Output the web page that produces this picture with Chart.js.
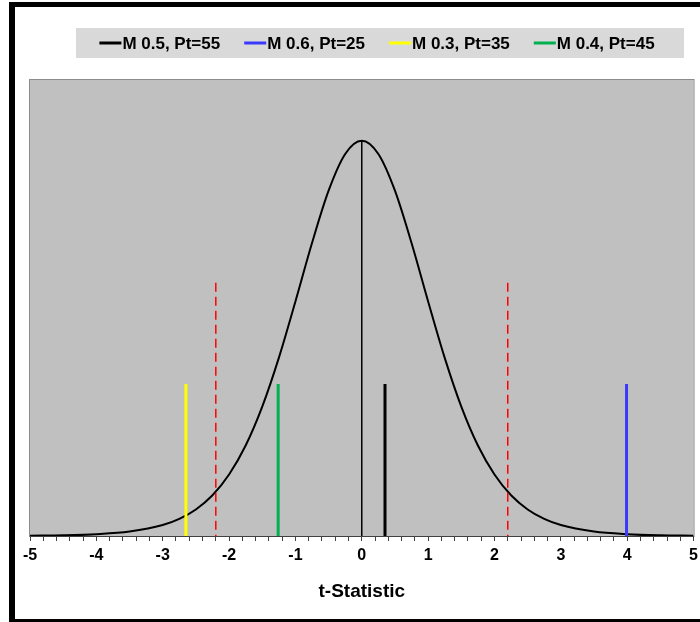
<!DOCTYPE html>
<html>
<head>
<meta charset="utf-8">
<title>t-Statistic</title>
<script src="https://cdn.jsdelivr.net/npm/chart.js@4"></script>
<style>
  html, body { margin: 0; padding: 0; background: #fff; }
  #wrap { position: relative; width: 700px; height: 622px; overflow: hidden; }
  #frame {
    position: absolute; left: 9px; top: 2px; width: 720px; height: 612px;
    border-left: 6px solid #000; border-top: 5px solid #000; border-bottom: 5px solid #000;
  }
  #chart { position: absolute; left: 0; top: 0; }
</style>
</head>
<body>
<div id="wrap">
  <div id="frame"></div>
  <canvas id="chart" width="703" height="622"></canvas>
</div>
<script>
// density curve, sampled along the t axis
const curveT = [-5, -4.5, -4, -3.5, -3, -2.75, -2.5, -2.25, -2, -1.75, -1.5, -1.25, -1, -0.75, -0.5, -0.25,
  0, 0.25, 0.5, 0.75, 1, 1.25, 1.5, 1.75, 2, 2.25, 2.5, 2.75, 3, 3.5, 4, 4.5, 5];
const curveY = [0.0003, 0.0007, 0.0018, 0.0044, 0.0108, 0.0169, 0.0262, 0.0402, 0.0607, 0.0893, 0.1277, 0.1758, 0.2314, 0.2891, 0.3408, 0.3770,
  0.3900, 0.3770, 0.3408, 0.2891, 0.2314, 0.1758, 0.1277, 0.0893, 0.0607, 0.0402, 0.0262, 0.0169, 0.0108, 0.0044, 0.0018, 0.0007, 0.0003];

// observed t values for each model
const markerLabels = ['M 0.5, Pt=55', 'M 0.6, Pt=25', 'M 0.3, Pt=35', 'M 0.4, Pt=45'];
const markerT = [0.35, 3.99, -2.65, -1.26];
const markerHeight = 0.15;
const markerColors = ['#000000', '#3a3aff', '#ffff00', '#00b050'];

// critical values (two-sided 5%)
const criticalT = [-2.2, 2.2];
const criticalHeight = 0.25;
const peakY = 0.39;

const xTicksMin = -5;
const xTicksMax = 5;

function vline(x, top) {
  return [{ x: x, y: 0 }, { x: x, y: top }];
}

const datasets = [];

markerT.forEach((t, i) => {
  datasets.push({
    label: markerLabels[i],
    showInLegend: true,
    data: vline(t, markerHeight),
    borderColor: markerColors[i],
    borderWidth: 3,
    pointRadius: 0,
    order: 0
  });
});

// dashes run from the top down
criticalT.forEach(t => {
  datasets.push({
    data: vline(t, criticalHeight).reverse(),
    borderColor: '#ff0000',
    borderWidth: 1.5,
    borderDash: [9, 5],
    pointRadius: 0,
    order: 1
  });
});

datasets.push({
  data: vline(0, peakY),
  borderColor: '#000000',
  borderWidth: 1.5,
  pointRadius: 0,
  order: 1
});

datasets.push({
  data: curveT.map((t, i) => ({ x: t, y: curveY[i] })),
  borderColor: '#000000',
  borderWidth: 2,
  pointRadius: 0,
  cubicInterpolationMode: 'monotone',
  order: 2
});

// gray plot area with a thin border
const plotBackground = {
  id: 'plotBackground',
  beforeDraw(chart) {
    const { ctx, chartArea: a } = chart;
    ctx.save();
    ctx.fillStyle = '#c0c0c0';
    ctx.fillRect(a.left, a.top, a.right - a.left, a.bottom - a.top);
    ctx.strokeStyle = '#8c8c8c';
    ctx.lineWidth = 1;
    ctx.strokeRect(a.left - 0.5, a.top - 0.5, a.right - a.left + 1, a.bottom - a.top + 1);
    ctx.restore();
  }
};

// legend drawn in a gray band above the plot
const boxLegend = {
  id: 'boxLegend',
  afterDraw(chart, args, opts) {
    const { ctx } = chart;
    const items = chart.data.datasets.filter(d => d.showInLegend);
    ctx.save();
    ctx.fillStyle = opts.background;
    ctx.fillRect(opts.left, opts.top, opts.width, opts.height);
    ctx.font = opts.font;
    ctx.textBaseline = 'middle';
    const widths = items.map(d => opts.lineLength + opts.gap + ctx.measureText(d.label).width);
    const total = widths.reduce((s, w) => s + w, 0) + opts.spacing * (items.length - 1);
    let x = opts.left + (opts.width - total) / 2 + opts.shift;
    const y = opts.top + opts.height / 2;
    items.forEach((d, i) => {
      ctx.strokeStyle = d.borderColor;
      ctx.lineWidth = 3;
      ctx.beginPath();
      ctx.moveTo(x, y);
      ctx.lineTo(x + opts.lineLength, y);
      ctx.stroke();
      ctx.fillStyle = '#000';
      ctx.fillText(d.label, x + opts.lineLength + opts.gap, y + 1);
      x += widths[i] + opts.spacing;
    });
    ctx.restore();
  }
};

new Chart(document.getElementById('chart'), {
  type: 'line',
  data: { datasets },
  plugins: [plotBackground, boxLegend],
  options: {
    responsive: false,
    animation: false,
    layout: { padding: { left: 30, right: 4, top: 80, bottom: 15 } },
    plugins: {
      legend: { display: false },
      tooltip: { enabled: false },
      boxLegend: {
        left: 76, top: 28, width: 608, height: 30,
        background: '#d9d9d9',
        font: 'bold 17px "Liberation Sans", Arial, sans-serif',
        lineLength: 22, gap: 1, spacing: 24, shift: -3
      }
    },
    scales: {
      x: {
        type: 'linear',
        min: xTicksMin,
        max: xTicksMax,
        ticks: {
          stepSize: 0.2,
          autoSkip: false,
          maxRotation: 0,
          padding: 5,
          color: '#000',
          font: { family: '"Liberation Sans", Arial, sans-serif', size: 16, weight: 'bold' },
          callback: v => Math.abs(v - Math.round(v)) < 1e-6 ? String(Math.round(v)) : ''
        },
        grid: { drawOnChartArea: false, drawTicks: true, tickLength: 5, color: '#404040' },
        border: { color: '#404040', width: 1 },
        title: {
          display: true,
          text: 't-Statistic',
          color: '#000',
          padding: { top: 10, bottom: 4 },
          font: { family: '"Liberation Sans", Arial, sans-serif', size: 19, weight: 'bold' }
        }
      },
      y: {
        display: false,
        min: 0,
        max: 0.45
      }
    }
  }
});
</script>
</body>
</html>
